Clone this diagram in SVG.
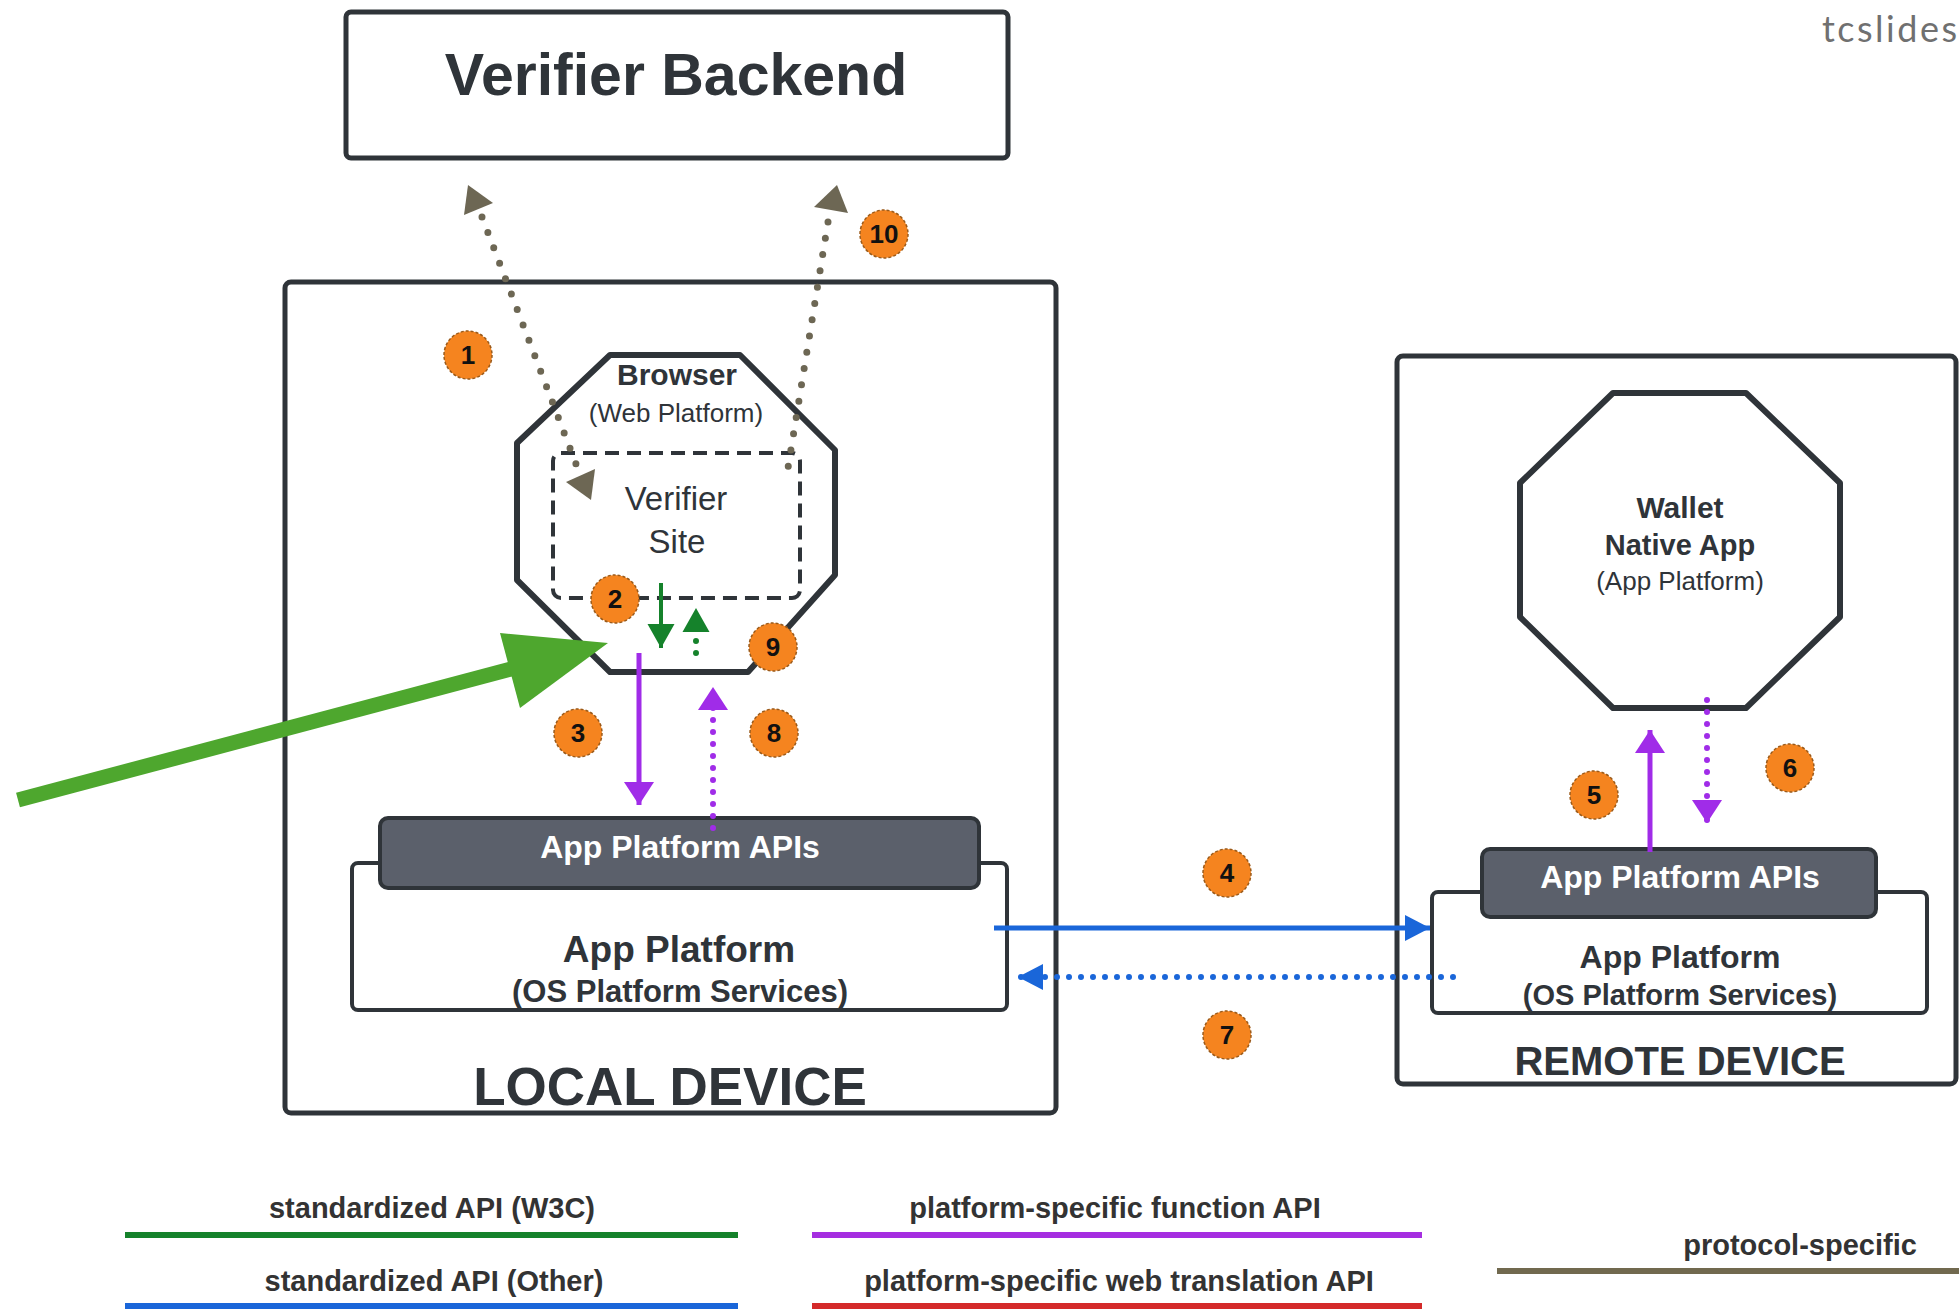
<svg xmlns="http://www.w3.org/2000/svg" width="1959" height="1309" viewBox="0 0 1959 1309">
  <style>
    .box { fill: #ffffff; stroke: #2f3439; stroke-width: 5; }
    .thin { fill: #ffffff; stroke: #2f3439; stroke-width: 4; }
    .api { fill: #5b606b; stroke: #2f3439; stroke-width: 4; }
    .oct { fill: #ffffff; stroke: #2f3439; stroke-width: 6; stroke-linejoin: round; }
    .dash { fill: none; stroke: #2f3439; stroke-width: 4; stroke-dasharray: 14 8; }
    .t { font-family: "Liberation Sans", Arial, sans-serif; fill: #2f3439; text-anchor: middle; }
    .b { font-weight: bold; }
    .w { fill: #ffffff; }
    .badge circle { fill: #f5841f; stroke: #9a5a1a; stroke-width: 1.5; stroke-dasharray: 3 2; }
    .badge text { font-family: "Liberation Sans", Arial, sans-serif; font-weight: bold; font-size: 26px; fill: #111111; text-anchor: middle; }
    .purple { stroke: #a02ce8; stroke-width: 5; fill: none; }
    .blue { stroke: #1a66d9; stroke-width: 5; fill: none; }
    .green { stroke: #15822b; stroke-width: 4; fill: none; }
    .dots { stroke-linecap: round; stroke-dasharray: 0 12; stroke-width: 6; }
    .proto { stroke: #6d6754; stroke-width: 7; stroke-linecap: round; stroke-dasharray: 0 16.5; fill: none; }
    .protohead { fill: #6d6754; }
    .legend { stroke-width: 6; fill: none; }
    .lt { font-family: "Liberation Sans", Arial, sans-serif; font-weight: bold; font-size: 29px; fill: #333333; text-anchor: middle; }
  </style>
  <defs>
    <marker id="hPurple" markerUnits="userSpaceOnUse" markerWidth="24" markerHeight="30" refX="23" refY="15" orient="auto">
      <path d="M0,0 L23,15 L0,30 z" fill="#a02ce8"/>
    </marker>
    <marker id="hBlue" markerUnits="userSpaceOnUse" markerWidth="26" markerHeight="28" refX="25" refY="14" orient="auto">
      <path d="M0,1 L25,14 L0,27 z" fill="#1a66d9"/>
    </marker>
    <marker id="hGreen" markerUnits="userSpaceOnUse" markerWidth="26" markerHeight="28" refX="24" refY="14" orient="auto">
      <path d="M0,0.5 L24,14 L0,27.5 z" fill="#15822b"/>
    </marker>
  </defs>

  <rect width="1959" height="1309" fill="#ffffff"/>

  <!-- device frames -->
  <g id="local-device">
    <rect class="box" x="285" y="282" width="771" height="831" rx="6"/>
    <text class="t b" x="670" y="1105" font-size="53">LOCAL DEVICE</text>
  </g>
  <g id="remote-device">
    <rect class="box" x="1397" y="356" width="559" height="728" rx="6"/>
    <text class="t b" x="1680" y="1075" font-size="40">REMOTE DEVICE</text>
  </g>

  <g id="verifier-backend">
    <rect class="box" x="346" y="12" width="662" height="146" rx="5"/>
    <text class="t b" x="676" y="95" font-size="59">Verifier Backend</text>
  </g>

  <g id="browser">
    <polygon class="oct" points="610,355 740,355 835,450 835,575 748,672 610,672 517,580 517,443"/>
    <text class="t b" x="677" y="385" font-size="30">Browser</text>
    <text class="t" x="676" y="422" font-size="26" fill="#3a3f45">(Web Platform)</text>
  </g>

  <g id="verifier-site">
    <rect class="dash" x="553" y="453" width="247" height="145" rx="8"/>
    <text class="t" x="676" y="510" font-size="33" fill="#3a3f45">Verifier</text>
    <text class="t" x="677" y="553" font-size="33" fill="#3a3f45">Site</text>
  </g>

  <g id="local-app-platform">
    <rect class="thin" x="352" y="863" width="655" height="147" rx="6"/>
    <text class="t b" x="679" y="962" font-size="37">App Platform</text>
    <text class="t b" x="680" y="1002" font-size="31">(OS Platform Services)</text>
  </g>
  <g id="local-app-platform-apis">
    <rect class="api" x="380" y="818" width="599" height="70" rx="8"/>
    <text class="t b w" x="680" y="858" font-size="32">App Platform APIs</text>
  </g>

  <g id="wallet">
    <polygon class="oct" points="1613,393 1746,393 1840,483 1840,617 1746,708 1613,708 1520,617 1520,483"/>
    <text class="t b" x="1680" y="518" font-size="30">Wallet</text>
    <text class="t b" x="1680" y="555" font-size="29">Native App</text>
    <text class="t" x="1680" y="590" font-size="26" fill="#3a3f45">(App Platform)</text>
  </g>

  <g id="remote-app-platform">
    <rect class="thin" x="1432" y="892" width="495" height="121" rx="6"/>
    <text class="t b" x="1680" y="968" font-size="32">App Platform</text>
    <text class="t b" x="1680" y="1005" font-size="29">(OS Platform Services)</text>
  </g>
  <g id="remote-app-platform-apis">
    <rect class="api" x="1482" y="849" width="394" height="68" rx="8"/>
    <text class="t b w" x="1680" y="888" font-size="32">App Platform APIs</text>
  </g>

  <!-- flows between the parts -->
  <g id="connectors">
    <!-- 1: site <-> backend -->
    <line class="proto" x1="482" y1="217" x2="576" y2="464"/>
    <polygon class="protohead" points="468,185 493,203 464,215"/>
    <polygon class="protohead" points="566,482 595,469 591,500"/>
    <!-- 10: site -> backend -->
    <line class="proto" x1="828" y1="222" x2="787" y2="474"/>
    <polygon class="protohead" points="814,207 837,185 848,213"/>
    <!-- 2 / 9: site <-> browser -->
    <line class="green" x1="661" y1="583" x2="661" y2="648" marker-end="url(#hGreen)"/>
    <line class="green dots" stroke-width="5" x1="696" y1="653" x2="696" y2="608" marker-end="url(#hGreen)"/>
    <!-- 3 / 8: browser <-> local platform -->
    <line class="purple" x1="639" y1="653" x2="639" y2="805" marker-end="url(#hPurple)"/>
    <line class="purple dots" x1="713" y1="828" x2="713" y2="687" marker-end="url(#hPurple)"/>
    <!-- 4 / 7: local platform <-> remote platform -->
    <line class="blue" x1="994" y1="928" x2="1430" y2="928" marker-end="url(#hBlue)"/>
    <line class="blue dots" x1="1453" y1="977" x2="1018" y2="977" marker-end="url(#hBlue)"/>
    <!-- 5 / 6: remote platform <-> wallet -->
    <line class="purple" x1="1650" y1="852" x2="1650" y2="730" marker-end="url(#hPurple)"/>
    <line class="purple dots" x1="1707" y1="700" x2="1707" y2="823" marker-end="url(#hPurple)"/>
  </g>

  <!-- step numbers -->
  <g id="step-1" class="badge"><circle cx="468" cy="355" r="24"/><text x="468" y="364">1</text></g>
  <g id="step-2" class="badge"><circle cx="615" cy="599" r="24"/><text x="615" y="608">2</text></g>
  <g id="step-3" class="badge"><circle cx="578" cy="733" r="24"/><text x="578" y="742">3</text></g>
  <g id="step-4" class="badge"><circle cx="1227" cy="873" r="24"/><text x="1227" y="882">4</text></g>
  <g id="step-5" class="badge"><circle cx="1594" cy="795" r="24"/><text x="1594" y="804">5</text></g>
  <g id="step-6" class="badge"><circle cx="1790" cy="768" r="24"/><text x="1790" y="777">6</text></g>
  <g id="step-7" class="badge"><circle cx="1227" cy="1035" r="24"/><text x="1227" y="1044">7</text></g>
  <g id="step-8" class="badge"><circle cx="774" cy="733" r="24"/><text x="774" y="742">8</text></g>
  <g id="step-9" class="badge"><circle cx="773" cy="647" r="24"/><text x="773" y="656">9</text></g>
  <g id="step-10" class="badge"><circle cx="884" cy="234" r="24"/><text x="884" y="243" font-size="24">10</text></g>

  <!-- pointer -->
  <g id="pointer">
    <line x1="18" y1="800" x2="515" y2="668" stroke="#4ea72e" stroke-width="15"/>
    <polygon points="608,643 500,633 520,708" fill="#4ea72e"/>
  </g>

  <!-- key -->
  <g id="legend">
    <text class="lt" x="432" y="1218">standardized API (W3C)</text>
    <line class="legend" x1="125" y1="1235" x2="738" y2="1235" stroke="#15822b"/>
    <text class="lt" x="434" y="1291">standardized API (Other)</text>
    <line class="legend" x1="125" y1="1306" x2="738" y2="1306" stroke="#1a66d9"/>
    <text class="lt" x="1115" y="1218">platform-specific function API</text>
    <line class="legend" x1="812" y1="1235" x2="1422" y2="1235" stroke="#a52ee0"/>
    <text class="lt" x="1119" y="1291">platform-specific web translation API</text>
    <line class="legend" x1="812" y1="1306" x2="1422" y2="1306" stroke="#d42a2a"/>
    <text class="lt" x="1800" y="1255">protocol-specific</text>
    <line class="legend" x1="1497" y1="1271" x2="1959" y2="1271" stroke="#71694f"/>
  </g>

  <text x="1822" y="42" font-family="Lato, sans-serif" font-size="36" fill="#707070" textLength="135">tcslides</text>
</svg>
